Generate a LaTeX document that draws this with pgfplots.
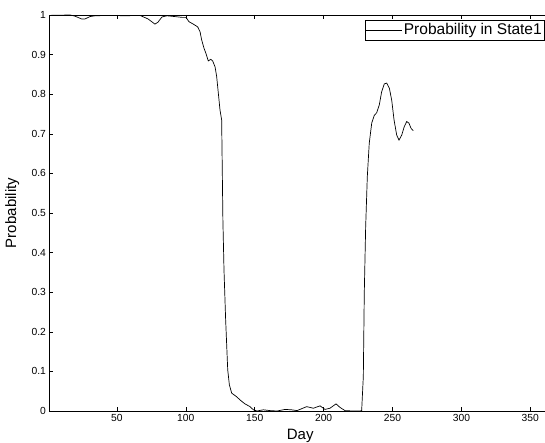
\documentclass[border=0pt]{standalone}
\usepackage{fontspec}
\setmainfont{Liberation Sans}
\usepackage{pgfplots}
\pgfplotsset{compat=1.18}
\begin{document}
\begin{tikzpicture}
\begin{axis}[
  name=ax,
  scale only axis,
  width=501.6pt, height=396pt,
  xmin=1, xmax=365, ymin=0, ymax=1,
  xtick={50,100,150,200,250,300,350},
  ytick={0,0.1,0.2,0.3,0.4,0.5,0.6,0.7,0.8,0.9,1},
  yticklabels={0,0.1,0.2,0.3,0.4,0.5,0.6,0.7,0.8,0.9,1},
  tick align=inside,
  major tick length=4pt,
  tick style={black, line width=0.5pt},
  axis line style={line width=0.6pt},
  /pgf/number format/assume math mode=true,
  ticklabel style={font=\fontsize{10.3}{12}\selectfont},
  xlabel={Day}, ylabel={Probability},
  xlabel style={at={(axis description cs:0.5,-0.063)}, anchor=center, font=\fontsize{15}{17}\selectfont},
  ylabel style={at={(axis description cs:-0.074,0.5)}, rotate=0, anchor=center, font=\fontsize{15}{17}\selectfont},
  legend style={at={(1,1)}, anchor=north east, xshift=-7pt, yshift=-5pt,
    draw=black, line width=0.5pt, font=\fontsize{15.5}{17}\selectfont,
    inner xsep=0pt, inner ysep=1.5pt},
  legend image code/.code={\path (0pt,0pt) -- (36pt,0pt); \draw[#1, line width=0.7pt] (5pt,0pt) -- (31pt,0pt);},
  legend cell align=left,
]
\addplot[black, line width=0.7pt] coordinates {
(1,0.999) (16,1.0) (19.6,0.997) (24.4,0.990) (26.8,0.990) (30.5,0.996) (34.1,0.998)
(45,0.999) (55.9,0.998) (66.7,0.999) (72.6,0.990) (77.6,0.977) (79.8,0.982)
(82.7,0.995) (86.3,0.998) (92.1,0.996) (97.2,0.994) (100.1,0.994) (102.3,0.983)
(105.4,0.977) (108.6,0.970) (110.3,0.958) (111.5,0.937) (113.2,0.916) (114.6,0.903)
(116.3,0.884) (118.1,0.888) (119.5,0.884) (121.2,0.869) (122.4,0.844) (123.6,0.802)
(124.8,0.760) (126.0,0.735) (126.9,0.482) (127.7,0.356) (128.9,0.230) (130.4,0.104)
(131.6,0.066) (133.3,0.045) (136.9,0.036) (139.3,0.028) (142.9,0.018) (146.6,0.011)
(149.0,0.003) (151.7,0.0) (156.2,0.003) (161.1,0.001) (166.2,0.0) (172.0,0.004)
(176.8,0.003) (180.7,0.001) (187.7,0.011) (192.5,0.007) (197.4,0.013) (201.0,0.004)
(204.6,0.007) (209.0,0.018) (211.9,0.009) (215.5,0.001) (221.3,0.0) (226.4,0.0)
(227.6,0.001) (228.8,0.087) (229.5,0.298) (230.5,0.465) (231.7,0.592) (233.1,0.676)
(234.9,0.727) (236.8,0.747) (238.5,0.753) (240.4,0.773) (242.1,0.806) (244.0,0.826)
(245.8,0.828) (247.7,0.815) (249.4,0.785) (251.1,0.735) (253.0,0.697) (254.7,0.684)
(256.7,0.697) (258.5,0.718) (260.3,0.731) (261.9,0.727) (263.4,0.714) (265.1,0.708)
};
\addlegendentry{Probability in State1}
\end{axis}
\pgfresetboundingbox
\path[use as bounding box] ([xshift=-49.4pt,yshift=-32pt]ax.south west) rectangle ([xshift=495.6pt,yshift=411pt]ax.south west);
\end{tikzpicture}
\end{document}
